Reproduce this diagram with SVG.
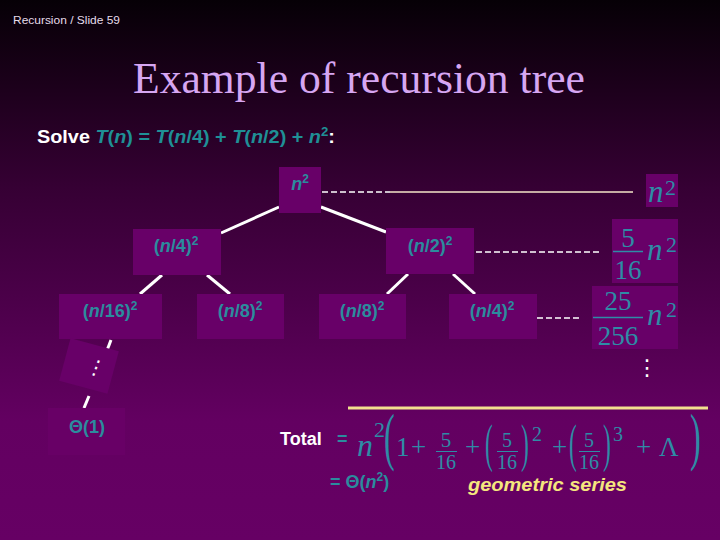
<svg xmlns="http://www.w3.org/2000/svg" width="720" height="540" viewBox="0 0 720 540">
<defs>
<linearGradient id="bg" x1="0" y1="0" x2="0" y2="1">
<stop offset="0" stop-color="#060006"/>
<stop offset="0.35" stop-color="#360034"/>
<stop offset="0.78" stop-color="#630061"/>
<stop offset="1" stop-color="#660064"/>
</linearGradient>
<style>
.box{fill:#680068;}
.lbl{font-family:"Liberation Sans",Arial,sans-serif;font-size:18px;font-weight:bold;fill:#2b8c9e;text-anchor:middle;}
.it{font-style:italic;}
.sup{font-size:12px;}
.ser{font-family:"Liberation Serif","Times New Roman",serif;fill:#2e8ca6;}
.edge{stroke:#ffffff;stroke-width:3;fill:none;}
.dash{stroke:#ffffff;stroke-width:1.5;stroke-dasharray:6 3;fill:none;}
.bar{stroke:#2e8ca6;stroke-width:1;}
</style>
</defs>
<rect x="0" y="0" width="720" height="540" fill="url(#bg)"/>
<text x="13" y="24" font-family="Liberation Sans,Arial,sans-serif" font-size="11" fill="#e6dcea" textLength="107" lengthAdjust="spacingAndGlyphs">Recursion / Slide 59</text>
<text x="359" y="93" font-family="Liberation Serif,Times New Roman,serif" font-size="45" fill="#d6a6f2" text-anchor="middle" textLength="452" lengthAdjust="spacingAndGlyphs">Example of recursion tree</text>
<text x="37" y="143" font-family="Liberation Sans,Arial,sans-serif" font-size="18" font-weight="bold" fill="#ffffff" textLength="298" lengthAdjust="spacingAndGlyphs">Solve <tspan fill="#1f9096"><tspan font-style="italic">T</tspan>(<tspan font-style="italic">n</tspan>) = <tspan font-style="italic">T</tspan>(<tspan font-style="italic">n</tspan>/4) + <tspan font-style="italic">T</tspan>(<tspan font-style="italic">n</tspan>/2) + <tspan font-style="italic">n</tspan><tspan font-size="12" dy="-7">2</tspan></tspan><tspan dy="7">:</tspan></text>

<g id="connectors">
<line class="edge" x1="279" y1="207" x2="221" y2="233"/>
<line class="edge" x1="321" y1="207" x2="386" y2="232"/>
<line class="edge" x1="162" y1="275" x2="140" y2="294"/>
<line class="edge" x1="207" y1="275" x2="230" y2="294"/>
<line class="edge" x1="408" y1="274" x2="387" y2="294"/>
<line class="edge" x1="453" y1="274" x2="475" y2="294"/>
<line class="edge" x1="111" y1="340" x2="106" y2="353"/>
<line class="edge" x1="89" y1="396" x2="84" y2="408"/>
<line class="dash" x1="322" y1="192" x2="390" y2="192"/>
<line x1="390" y1="192" x2="633" y2="192" stroke="#f6e6c8" stroke-width="1.5"/>
<line class="dash" x1="476" y1="252" x2="600" y2="252"/>
<line class="dash" x1="537" y1="318" x2="581" y2="318"/>
</g>

<g id="node-root">
<rect class="box" x="279" y="167" width="42" height="46"/>
<text class="lbl" x="300" y="190"><tspan class="it">n</tspan><tspan class="sup" dy="-7">2</tspan></text>
</g>
<g id="node-n4">
<rect class="box" x="133" y="229" width="88" height="46"/>
<text class="lbl" x="176" y="252">(<tspan class="it">n</tspan>/4)<tspan class="sup" dy="-7">2</tspan></text>
</g>
<g id="node-n2">
<rect class="box" x="386" y="228" width="88" height="46"/>
<text class="lbl" x="430" y="252">(<tspan class="it">n</tspan>/2)<tspan class="sup" dy="-7">2</tspan></text>
</g>
<g id="node-n16">
<rect class="box" x="59" y="294" width="103" height="45"/>
<text class="lbl" x="110" y="317">(<tspan class="it">n</tspan>/16)<tspan class="sup" dy="-7">2</tspan></text>
</g>
<g id="node-n8a">
<rect class="box" x="197" y="294" width="87" height="45"/>
<text class="lbl" x="240" y="317">(<tspan class="it">n</tspan>/8)<tspan class="sup" dy="-7">2</tspan></text>
</g>
<g id="node-n8b">
<rect class="box" x="319" y="294" width="87" height="45"/>
<text class="lbl" x="362" y="317">(<tspan class="it">n</tspan>/8)<tspan class="sup" dy="-7">2</tspan></text>
</g>
<g id="node-n4b">
<rect class="box" x="449" y="294" width="88" height="45"/>
<text class="lbl" x="492" y="317">(<tspan class="it">n</tspan>/4)<tspan class="sup" dy="-7">2</tspan></text>
</g>
<g id="node-dots">
<rect class="box" x="-25" y="-22" width="50" height="44" transform="translate(89,366) rotate(15)"/>
<text x="0" y="0" font-family="DejaVu Sans,sans-serif" font-size="20" fill="#ffffff" text-anchor="middle" transform="translate(94,374) rotate(20)">⋮</text>
</g>
<g id="node-theta">
<rect x="48" y="408" width="77" height="47" fill="#680066"/>
<text class="lbl" x="87" y="433">Θ(1)</text>
</g>

<g id="level-sums">
<rect class="box" x="646" y="174" width="32" height="33"/>
<text class="ser" x="648" y="202" font-size="31" font-style="italic">n</text>
<text class="ser" x="665" y="195" font-size="22">2</text>

<rect class="box" x="612" y="219" width="66" height="64"/>
<text class="ser" x="628" y="247" font-size="27" text-anchor="middle">5</text>
<line x1="613" y1="251.5" x2="643" y2="251.5" stroke="#2e8ca6" stroke-width="1.5"/>
<text class="ser" x="628" y="279" font-size="27" text-anchor="middle">16</text>
<text class="ser" x="647" y="260" font-size="31" font-style="italic">n</text>
<text class="ser" x="666" y="252" font-size="22">2</text>

<rect class="box" x="592" y="286" width="86" height="63"/>
<text class="ser" x="618" y="310" font-size="27" text-anchor="middle">25</text>
<line x1="593" y1="317.5" x2="643" y2="317.5" stroke="#2e8ca6" stroke-width="1.5"/>
<text class="ser" x="618" y="345" font-size="27" text-anchor="middle">256</text>
<text class="ser" x="647" y="325" font-size="31" font-style="italic">n</text>
<text class="ser" x="666" y="317" font-size="22">2</text>

<text x="647" y="375" font-family="DejaVu Sans,sans-serif" font-size="22" fill="#ffffff" text-anchor="middle">⋮</text>
</g>

<g id="total">
<line x1="348" y1="408" x2="708" y2="408" stroke="#f2e08e" stroke-width="3"/>
<text x="280" y="445" font-family="Liberation Sans,Arial,sans-serif" font-size="18" font-weight="bold" fill="#ffffff">Total</text>
<text x="337" y="445" font-family="Liberation Sans,Arial,sans-serif" font-size="18" font-weight="bold" fill="#2b8c9e">=</text>
<text class="ser" x="357" y="456" font-size="32" font-style="italic">n</text>
<text class="ser" x="374" y="437" font-size="22">2</text>
<text class="ser" x="0" y="0" font-size="32" transform="translate(384,458) scale(1,2)">(</text>
<text class="ser" x="396" y="456" font-size="27">1</text>
<text class="ser" x="411" y="456" font-size="27">+</text>
<text class="ser" x="446" y="447" font-size="21" text-anchor="middle">5</text>
<line class="bar" x1="436" y1="451.5" x2="457" y2="451.5"/>
<text class="ser" x="446" y="469" font-size="20" text-anchor="middle">16</text>
<text class="ser" x="465" y="456" font-size="27">+</text>
<text class="ser" x="0" y="0" font-size="26" transform="translate(485,461) scale(0.9,2)">(</text>
<text class="ser" x="507" y="447" font-size="20" text-anchor="middle">5</text>
<line class="bar" x1="497" y1="451.5" x2="518" y2="451.5"/>
<text class="ser" x="507" y="469" font-size="20" text-anchor="middle">16</text>
<text class="ser" x="0" y="0" font-size="26" transform="translate(521,461) scale(0.9,2)">)</text>
<text class="ser" x="532" y="441" font-size="20">2</text>
<text class="ser" x="552" y="456" font-size="27">+</text>
<text class="ser" x="0" y="0" font-size="26" transform="translate(569,461) scale(0.9,2)">(</text>
<text class="ser" x="589" y="447" font-size="20" text-anchor="middle">5</text>
<line class="bar" x1="579" y1="451.5" x2="600" y2="451.5"/>
<text class="ser" x="589" y="469" font-size="20" text-anchor="middle">16</text>
<text class="ser" x="0" y="0" font-size="26" transform="translate(603,461) scale(0.9,2)">)</text>
<text class="ser" x="613" y="441" font-size="20">3</text>
<text class="ser" x="636" y="456" font-size="27">+</text>
<text class="ser" x="659" y="456" font-size="27">Λ</text>
<text class="ser" x="0" y="0" font-size="32" transform="translate(690,458) scale(1,2)">)</text>
<text x="330" y="488" font-family="Liberation Sans,Arial,sans-serif" font-size="18" font-weight="bold" fill="#2b8c9e">= Θ(<tspan font-style="italic">n</tspan><tspan font-size="12" dy="-7">2</tspan><tspan dy="7">)</tspan></text>
<text x="468" y="491" font-family="Liberation Sans,Arial,sans-serif" font-size="19" font-weight="bold" font-style="italic" fill="#f5e67e" textLength="159" lengthAdjust="spacingAndGlyphs">geometric series</text>
</g>
</svg>
